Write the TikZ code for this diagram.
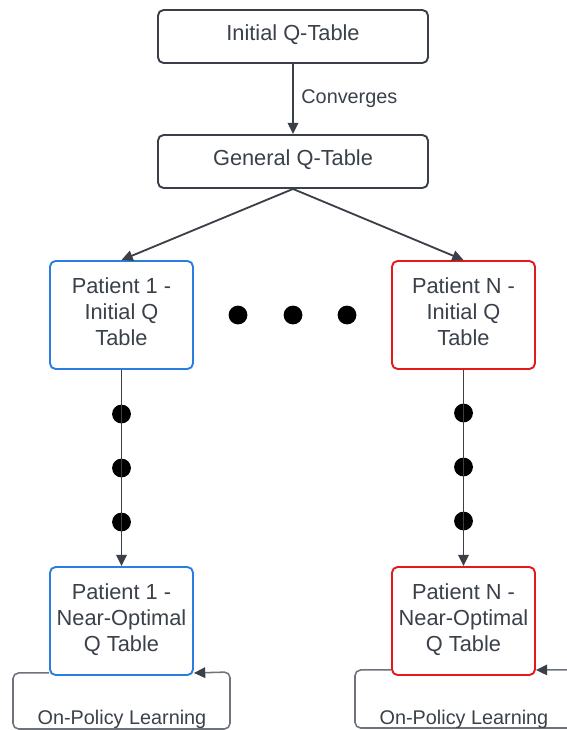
\documentclass[tikz,border=0pt]{standalone}
\usepackage{fontspec}
\setmainfont{Liberation Sans}
\usetikzlibrary{arrows.meta,positioning,calc}
\definecolor{ink}{HTML}{3A414A}
\definecolor{edge}{HTML}{3B4048}
\definecolor{loopgray}{HTML}{6E737B}
\definecolor{ptblue}{HTML}{2A7DE1}
\definecolor{ptred}{HTML}{E3191C}

\begin{document}
\begin{tikzpicture}[x=0.025cm,y=-0.025cm,
  box/.style={draw=edge,fill=white,rounded corners=4pt,line width=1.35pt,text=ink,
    font=\fontsize{15.5}{18.6}\selectfont,align=center,text depth=0.17cm},
  wide/.style={box,minimum width=6.75cm,minimum height=1.325cm},
  patient/.style={box,minimum width=3.575cm,minimum height=2.7cm},
  tip/.style={-{Triangle[length=8pt,width=7.5pt,color=edge]}},
  conn/.style={draw=edge,line width=1.3pt,tip},
  lbl/.style={text=ink,font=\fontsize{14.1}{17}\selectfont},
  bigdot/.style={circle,fill=black,inner sep=0pt,minimum size=0.47cm},
  loopline/.style={draw=loopgray,line width=1.1pt,rounded corners=4pt,tip}]
  \useasboundingbox[fill=white] (0,0) rectangle (566,730);

  \node[wide] (init) at (293,36.5) {Initial Q-Table};
  \node[wide] (gen) at (293,161.5) {General Q-Table};
  \node[patient,draw=ptblue] (p1init) at (121.5,315) {Patient 1 -\\Initial Q\\Table};
  \node[patient,draw=ptred] (pNinit) at (463.5,315) {Patient N -\\Initial Q\\Table};
  \node[patient,draw=ptblue] (p1opt) at (121.5,621) {Patient 1 -\\Near-Optimal\\Q Table};
  \node[patient,draw=ptred] (pNopt) at (463.5,621) {Patient N -\\Near-Optimal\\Q Table};

  % the other patients
  \foreach \x [count=\i] in {238,293,347}
    \node[bigdot] (hdot\i) at (\x,315) {};
  % the learning steps in between
  \foreach \y [count=\i] in {414,468,522} {
    \node[bigdot] (ldot\i) at (121.5,\y) {};
    \node[bigdot] (rdot\i) at (463.5,\y-1) {};
  }

  \draw[conn] (init) -- node[lbl,right=2pt] {Converges} (gen);
  \draw[conn] (gen.south) -- (p1init.north);
  \draw[conn] (gen.south) -- (pNinit.north);
  \draw[conn] (p1init) -- (p1opt);
  \draw[conn] (pNinit) -- (pNopt);

  % on-policy loops
  \draw[loopline] ([yshift=0.075cm]p1opt.south west) -| (13,729) -| (230,672)
    -- ([yshift=0.075cm]p1opt.south east);
  \node[lbl] (p1learn) at (122,719) {On-Policy Learning};
  \draw[loopline] ([yshift=0.15cm]pNopt.south west) -| (355,728) -- (590,728)
    |- ([yshift=0.15cm]pNopt.south east);
  \node[lbl] (pNlearn) at (464,719) {On-Policy Learning};
\end{tikzpicture}
\end{document}
